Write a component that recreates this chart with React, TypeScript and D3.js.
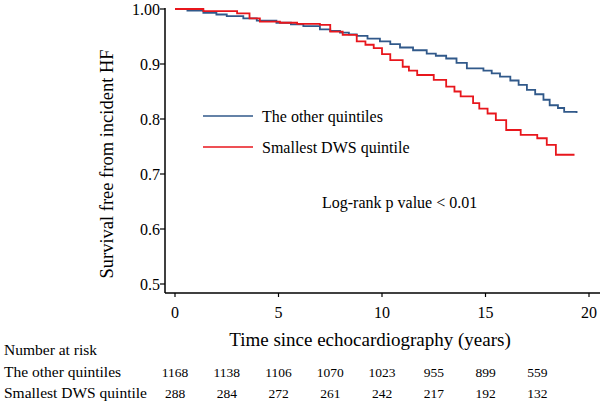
import React from "react";
import * as d3 from "d3";

const otherTimes = [0, 0.6, 1.37, 2.0, 2.5, 3.3, 3.95, 4.9, 5.6, 6.2, 7.0, 7.5, 7.97, 8.4, 8.78, 9.3, 9.9, 10.4, 10.87, 11.5, 12.16, 12.6, 13.1, 13.6, 14.1, 14.9, 15.3, 15.7, 16.2, 16.6, 17.0, 17.4, 17.8, 18.1, 18.5, 18.8, 19.4];
const otherSurv = [1.0, 0.997, 0.993, 0.99, 0.987, 0.983, 0.979, 0.975, 0.972, 0.969, 0.963, 0.96, 0.957, 0.954, 0.951, 0.946, 0.941, 0.936, 0.930, 0.925, 0.919, 0.915, 0.910, 0.902, 0.892, 0.888, 0.883, 0.877, 0.870, 0.862, 0.853, 0.845, 0.835, 0.825, 0.82, 0.813, 0.811];

const smallTimes = [0, 1.37, 3.0, 3.6, 4.1, 5.07, 5.9, 7.0, 7.5, 8.1, 8.78, 9.2, 9.6, 10.0, 10.4, 11.0, 11.3, 11.7, 12.5, 13.1, 13.5, 13.8, 14.4, 14.7, 15.1, 15.5, 16.0, 16.7, 17.5, 17.96, 18.4, 19.3];
const smallSurv = [1.0, 0.996, 0.992, 0.983, 0.977, 0.975, 0.973, 0.971, 0.959, 0.953, 0.941, 0.935, 0.929, 0.918, 0.907, 0.895, 0.888, 0.880, 0.871, 0.859, 0.85, 0.841, 0.829, 0.819, 0.81, 0.798, 0.78, 0.771, 0.765, 0.753, 0.735, 0.735];

const xTicks = [0, 5, 10, 15, 20];
const yTicks = [0.5, 0.6, 0.7, 0.8, 0.9, 1.0];
const riskTimes = [0, 2.5, 5, 7.5, 10, 12.5, 15, 17.5];
const riskOther = [1168, 1138, 1106, 1070, 1023, 955, 899, 559];
const riskSmall = [288, 284, 272, 261, 242, 217, 192, 132];
const seriesNames = ["The other quintiles", "Smallest DWS quintile"];
const seriesColors = ["#31598a", "#e8161c"];

const FONT = "'Liberation Serif', 'Times New Roman', serif";

export default function App() {
  const W = 600, H = 404;
  const x = d3.scaleLinear().domain([0, 20]).range([175, 589]);
  const y = d3.scaleLinear().domain([0.5, 1.0]).range([284, 9]);
  const line = d3.line<[number, number]>().x(d => x(d[0])).y(d => y(d[1])).curve(d3.curveStepAfter);
  const otherData: [number, number][] = otherTimes.map((t, i) => [t, otherSurv[i]]);
  const smallData: [number, number][] = smallTimes.map((t, i) => [t, smallSurv[i]]);
  const axisY = 293;
  const axisX = 165;

  return (
    <svg width={W} height={H} style={{ position: "absolute", left: 0, top: 0, background: "#fff" }} fontFamily={FONT}>
      <rect x={0} y={0} width={W} height={H} fill="#fff" />
      <line x1={axisX} x2={axisX} y1={8} y2={axisY} stroke="#000" strokeWidth={1.5} />
      <line x1={axisX} x2={600} y1={axisY} y2={axisY} stroke="#000" strokeWidth={1.5} />
      {yTicks.map(v => (
        <g key={v}>
          <line x1={axisX - 5} x2={axisX} y1={y(v)} y2={y(v)} stroke="#000" strokeWidth={1.2} />
          <text x={axisX - 5} y={y(v)} dy="0.35em" textAnchor="end" fontSize={16}>
            {v === 1 ? "1.00" : v.toFixed(1)}
          </text>
        </g>
      ))}
      {xTicks.map(v => (
        <g key={v}>
          <line x1={x(v)} x2={x(v)} y1={axisY} y2={axisY + 4} stroke="#000" strokeWidth={1.2} />
          <text x={x(v)} y={318} textAnchor="middle" fontSize={16}>{v}</text>
        </g>
      ))}
      <text x={370} y={346} textAnchor="middle" fontSize={19}>Time since echocardiography (years)</text>
      <text transform={`translate(113,164) rotate(-90)`} textAnchor="middle" fontSize={18.5}>Survival free from incident HF</text>

      <path d={line(otherData) || ""} fill="none" stroke={seriesColors[0]} strokeWidth={1.8} />
      <path d={line(smallData) || ""} fill="none" stroke={seriesColors[1]} strokeWidth={1.8} />

      {seriesNames.map((n, i) => (
        <g key={n}>
          <line x1={203} x2={253} y1={116 + i * 31} y2={116 + i * 31} stroke={seriesColors[i]} strokeWidth={1.5} />
          <text x={262} y={116 + i * 31} dy="0.35em" fontSize={16}>{n}</text>
        </g>
      ))}
      <text x={322} y={202} dy="0.35em" fontSize={16}>Log-rank p value &lt; 0.01</text>

      <text x={4} y={355} fontSize={15.5}>Number at risk</text>
      <text x={4} y={377} fontSize={15.5}>The other quintiles</text>
      <text x={4} y={398} fontSize={15.5}>Smallest DWS quintile</text>
      {riskTimes.map((t, i) => (
        <g key={t}>
          <text x={x(t)} y={377} textAnchor="middle" fontSize={13.5}>{riskOther[i]}</text>
          <text x={x(t)} y={398} textAnchor="middle" fontSize={13.5}>{riskSmall[i]}</text>
        </g>
      ))}
    </svg>
  );
}
